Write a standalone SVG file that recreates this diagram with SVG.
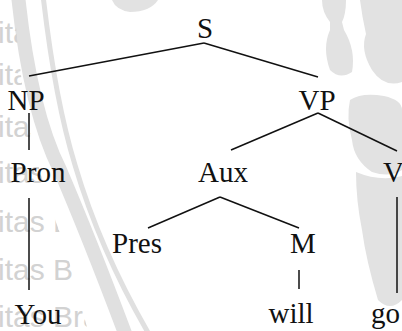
<svg xmlns="http://www.w3.org/2000/svg" width="402" height="331" viewBox="0 0 402 331">
  <style>
    .lbl { font-family: "Liberation Serif", "Times New Roman", serif; font-size: 29px; fill: #111; text-anchor: middle; }
    .edge { stroke: #111; stroke-width: 1.5; stroke-linecap: butt; fill: none; }
    .wm-text { font-family: "Liberation Sans", Arial, sans-serif; font-size: 30px; fill: #d2d2d2; }
    .wm { fill: #e2e2e2; }
    .wm-ring { fill: none; stroke: #e0e0e0; }
  </style>
  <defs>
    <clipPath id="wm-clip">
      <path d="M0,0 L14,0 L18,50 L24,100 L34,150 L48,200 L66,250 L88,331 L0,331 Z"/>
    </clipPath>
  </defs>

  <rect width="402" height="331" fill="#ffffff"/>

  <!-- background seal watermark -->
  <g id="watermark">
    <path class="wm-ring" stroke-width="14" d="M18,-5 Q30,110 60,170 Q90,240 126,336"/>
    <path class="wm-ring" stroke-width="5" d="M43,-5 Q55,100 75,165 Q100,250 150,336"/>
    <path class="wm" d="M112,0 L158,0 Q150,12 130,12 Q116,10 112,0 Z"/>
    <!-- figure on the right -->
    <path class="wm" d="M322,0 L346,0 Q346,14 342,22 L344,30 Q356,50 352,72 Q340,80 330,70 Q322,48 330,30 L330,22 Q322,12 322,0 Z"/>
    <path class="wm" d="M360,0 L402,0 L402,82 Q384,88 372,70 Q360,50 366,34 Q362,16 360,0 Z"/>
    <path class="wm" d="M350,100 Q362,92 384,96 Q402,100 402,110 L402,170 Q390,178 372,172 Q354,160 352,140 Q346,118 350,100 Z"/>
    <path class="wm" d="M356,172 Q380,182 402,176 L402,300 Q390,312 378,300 Q366,260 362,230 Q356,200 356,172 Z"/>
    <g clip-path="url(#wm-clip)">
      <text class="wm-text" x="-2" y="43">itas Brawijaya</text>
      <text class="wm-text" x="-2" y="85">itas Brawijaya</text>
      <text class="wm-text" x="-2" y="137">itas Brawijaya</text>
      <text class="wm-text" x="-2" y="183">itas Brawijaya</text>
      <text class="wm-text" x="-2" y="232">itas Brawijaya</text>
      <text class="wm-text" x="-2" y="280">itas Brawijaya</text>
      <text class="wm-text" x="-2" y="327">itas Brawijaya</text>
    </g>
  </g>

  <!-- tree branches -->
  <g id="connectors">
    <line class="edge" x1="204" y1="43" x2="29" y2="76"/>
    <line class="edge" x1="204" y1="43" x2="318" y2="77"/>
    <line class="edge" x1="29" y1="113" x2="29" y2="150"/>
    <line class="edge" x1="318" y1="113" x2="231" y2="150"/>
    <line class="edge" x1="318" y1="113" x2="397" y2="151"/>
    <line class="edge" x1="29" y1="198" x2="29" y2="290"/>
    <line class="edge" x1="220" y1="197" x2="148" y2="228"/>
    <line class="edge" x1="220" y1="197" x2="299" y2="228"/>
    <line class="edge" x1="299" y1="270" x2="299" y2="289"/>
    <line class="edge" x1="397" y1="197" x2="397" y2="293"/>
  </g>

  <!-- tree nodes -->
  <g id="node-S"><text class="lbl" x="205" y="38">S</text></g>
  <g id="node-NP"><text class="lbl" x="26" y="110">NP</text></g>
  <g id="node-VP"><text class="lbl" x="317" y="110">VP</text></g>
  <g id="node-Pron"><text class="lbl" x="38" y="182">Pron</text></g>
  <g id="node-Aux"><text class="lbl" x="223" y="182">Aux</text></g>
  <g id="node-V"><text class="lbl" x="383" y="182" style="text-anchor:start">V</text></g>
  <g id="node-Pres"><text class="lbl" x="137" y="253">Pres</text></g>
  <g id="node-M"><text class="lbl" x="303" y="253">M</text></g>
  <g id="node-You"><text class="lbl" x="38" y="324">You</text></g>
  <g id="node-will"><text class="lbl" x="291" y="323">will</text></g>
  <g id="node-go"><text class="lbl" x="371" y="323" style="text-anchor:start">go</text></g>
</svg>
